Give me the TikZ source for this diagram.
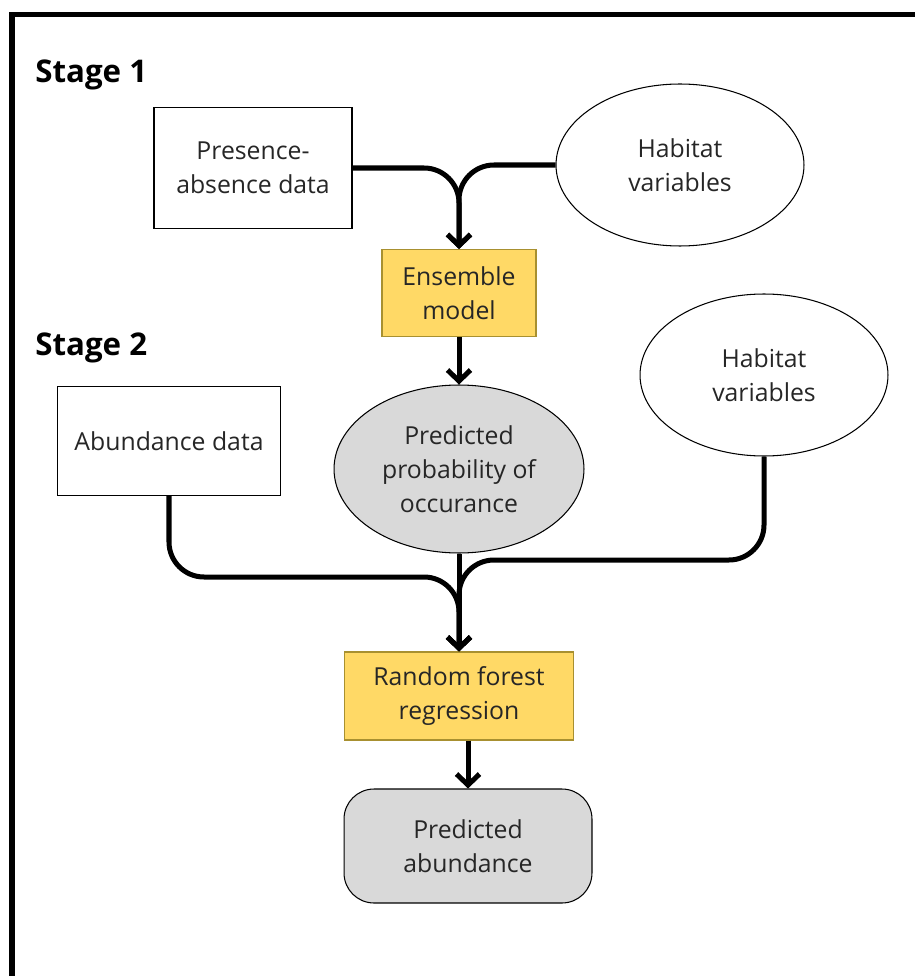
\documentclass[tikz,border=0pt]{standalone}
\usepackage{fontspec}
\setmainfont{Open Sans}
\usetikzlibrary{arrows.meta,shapes.geometric}
\definecolor{modelyellow}{HTML}{FFD966}
\definecolor{modelborder}{HTML}{A89030}
\definecolor{outgray}{HTML}{D9D9D9}
\begin{document}
\begin{tikzpicture}
[x=.02cm, y=-.02cm,
 txt/.style={font=\fontsize{14.1}{19.5}\selectfont, align=center, text=black!85, inner sep=0pt},
 stage/.style={font=\fontsize{17.8}{20}\selectfont\bfseries, anchor=west, inner sep=0pt},
 databox/.style={txt, draw, line width=.6pt},
 habitat/.style={txt, draw, ellipse, line width=.6pt, minimum width=4.96cm, minimum height=3.24cm},
 model/.style={txt, draw=modelborder, fill=modelyellow, line width=.6pt},
 link/.style={line width=2.85pt, rounded corners=.7cm},
 arrow/.style={link, -{Straight Barb[length=.22cm, width=.46cm]}}]
\useasboundingbox (0,0) rectangle (914,976);
\draw[line width=2.85pt] (12,990) -- (12,15) -- (930,15);
\node[stage] (s1) at (35,75) {Stage 1};
\node[stage] (s2) at (35,348) {Stage 2};
\node[databox, minimum width=3.96cm, minimum height=2.42cm] (pa) at (253,168) {Presence-\\absence data};
\node[habitat] (hab1) at (680,165) {Habitat\\variables};
\node[model, minimum width=3.08cm, minimum height=1.74cm] (ens) at (459,293) {Ensemble\\model};
\node[txt, draw, ellipse, fill=outgray, line width=.6pt, minimum width=5cm, minimum height=3.36cm] (prob) at (459,469) {Predicted\\probability of\\occurance};
\node[habitat] (hab2) at (764,375) {Habitat\\variables};
\node[databox, minimum width=4.46cm, minimum height=2.18cm] (ab) at (169,441) {Abundance data};
\node[model, minimum width=4.58cm, minimum height=1.76cm] (rf) at (459,696) {Random forest\\regression};
\node[txt, draw, fill=outgray, line width=.6pt, rounded corners=.6cm, minimum width=4.96cm, minimum height=2.28cm] (pab) at (468,846) {Predicted\\abundance};
\coordinate (j1) at (459,577);
\coordinate (j2) at (459,560);
\draw[arrow] (pa.east) -| (ens.north);
\draw[arrow] (hab1.west) -| (ens.north);
\draw[arrow] (ens.south) -- (prob.north);
\draw[arrow] (ab.south) |- (j1) -- (rf.north);
\draw[arrow] (hab2.south) |- (j2) -- (rf.north);
\draw[arrow] (prob.south) -- (rf.north);
\draw[arrow] (pab.north |- rf.south) -- (pab.north);
\end{tikzpicture}
\end{document}
